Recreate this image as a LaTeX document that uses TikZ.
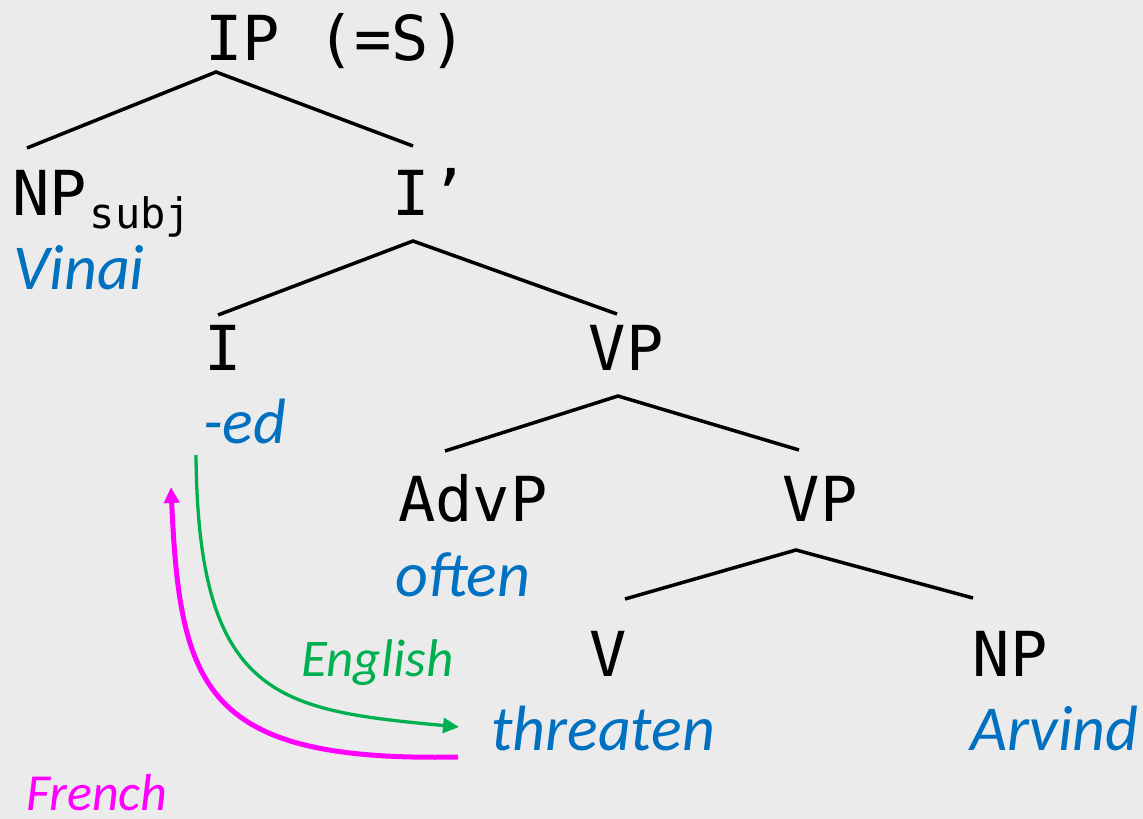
\documentclass[tikz,border=0pt]{standalone}
\usepackage{fontspec}
\setmainfont{Carlito}
\setmonofont{DejaVu Sans Mono}
\usetikzlibrary{arrows.meta}
\definecolor{bg}{HTML}{EBEBEB}
\definecolor{wordblue}{HTML}{0070C0}
\definecolor{engreen}{HTML}{00B050}
\definecolor{frmagenta}{HTML}{FF00FF}
\begin{document}
\begin{tikzpicture}[x=1pt,y=-1pt,
  cat/.style={font=\fontsize{62}{62}\selectfont\ttfamily, inner sep=0pt, anchor=base},
  word/.style={font=\fontsize{64}{64}\selectfont\itshape, text=wordblue, inner sep=0pt, anchor=base west},
  langlabel/.style={font=\fontsize{53}{53}\selectfont\itshape, inner sep=0pt, anchor=base west},
  branch/.style={line width=3.5pt},
  movearrow/.style={-{Triangle[length=16pt,width=15pt]}}
]
\fill[bg] (0,0) rectangle (1143,819);
\useasboundingbox (0,0) rectangle (1143,819);

% category labels
\node[cat] (ip) at (336,60) {IP (=S)};
\node[cat, anchor=base west] (npsubj) at (12,215) {NP\kern3pt\raisebox{-13pt}{\fontsize{42}{42}\selectfont subj}};
\node[cat] (ibar) at (430,215) {I’};
\node[cat] (i) at (223,370) {I};
\node[cat] (vp1) at (626,370) {VP};
\node[cat] (advp) at (473,521) {AdvP};
\node[cat] (vp2) at (820,521) {VP};
\node[cat] (v) at (608,676) {V};
\node[cat] (np) at (1010,676) {NP};

% words
\node[word] (vinai) at (13,289) {Vinai};
\node[word] (ed) at (203,443) {-ed};
\node[word] (often) at (395,596) {often};
\node[word] (threaten) at (491,750) {threaten};
\node[word] (arvind) at (970,750) {Arvind};

\node[langlabel, text=engreen] (english) at (301,676) {English};
\node[langlabel, text=frmagenta, font=\fontsize{52}{52}\selectfont\itshape, text depth=0pt] (french) at (26,810) {French};

% branch points
\coordinate (ip-top) at (216,72);
\coordinate (ip-l) at (27,148);
\coordinate (ip-r) at (413,146);
\coordinate (ibar-top) at (413,241);
\coordinate (ibar-l) at (218,315);
\coordinate (ibar-r) at (617,314);
\coordinate (vp1-top) at (618,396);
\coordinate (vp1-l) at (445,451);
\coordinate (vp1-r) at (799,450);
\coordinate (vp2-top) at (796,550);
\coordinate (vp2-l) at (625,599);
\coordinate (vp2-r) at (973,598);

\draw[branch] (ip-l) -- (ip-top) -- (ip-r);
\draw[branch] (ibar-l) -- (ibar-top) -- (ibar-r);
\draw[branch] (vp1-l) -- (vp1-top) -- (vp1-r);
\draw[branch] (vp2-l) -- (vp2-top) -- (vp2-r);

% movement arrows
\coordinate (eng-from) at (196,455);
\coordinate (eng-to) at (459,727);
\coordinate (fr-from) at (458,757);
\coordinate (fr-to) at (171,487);

\draw[engreen, line width=3.3pt, movearrow] (eng-from) .. controls (198,700) and (280,710) .. (eng-to);
\draw[frmagenta, line width=5pt, movearrow] (fr-from) .. controls (205,762) and (180,690) .. (fr-to);
\end{tikzpicture}
\end{document}
